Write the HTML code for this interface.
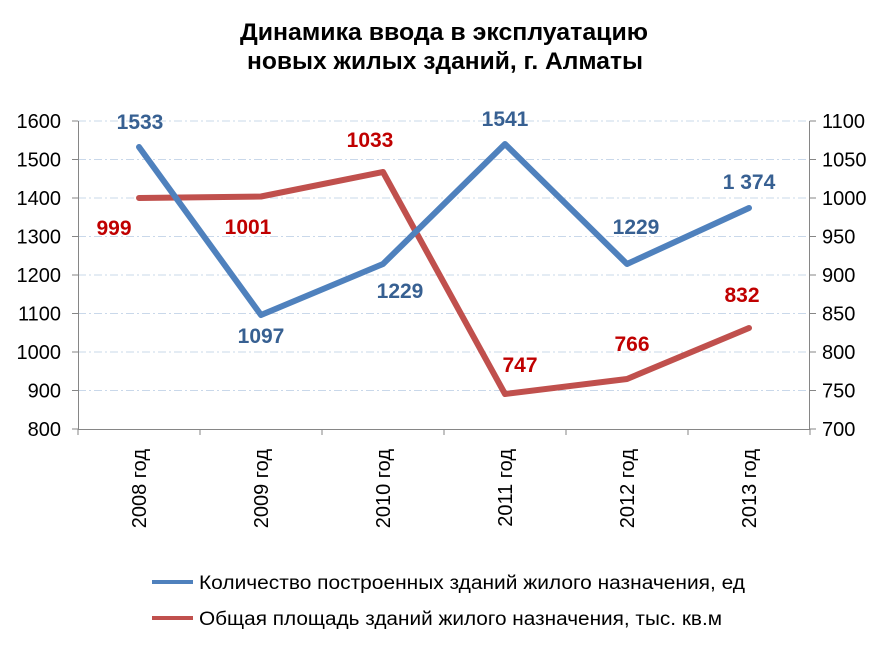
<!DOCTYPE html>
<html><head><meta charset="utf-8"><style>body{margin:0;background:#fff}</style></head><body>
<svg width="888" height="646" xmlns="http://www.w3.org/2000/svg" font-family="Liberation Sans, sans-serif">
<rect width="888" height="646" fill="#fff"/>
<text x="240" y="40" font-size="24" font-weight="bold" textLength="408" lengthAdjust="spacingAndGlyphs">Динамика ввода в эксплуатацию</text>
<text x="247" y="69" font-size="24" font-weight="bold" textLength="396" lengthAdjust="spacingAndGlyphs">новых жилых зданий, г. Алматы</text>
<g stroke="#c9d8ea" stroke-width="1" stroke-dasharray="8,3,2,3">
<line x1="78" x2="810" y1="121" y2="121"/><line x1="78" x2="810" y1="159.5" y2="159.5"/>
<line x1="78" x2="810" y1="198" y2="198"/><line x1="78" x2="810" y1="236.5" y2="236.5"/>
<line x1="78" x2="810" y1="275" y2="275"/><line x1="78" x2="810" y1="313.5" y2="313.5"/>
<line x1="78" x2="810" y1="352" y2="352"/><line x1="78" x2="810" y1="390.5" y2="390.5"/>
</g>
<g stroke="#868686" stroke-width="1">
<line x1="78.5" y1="121" x2="78.5" y2="429"/><line x1="809.5" y1="121" x2="809.5" y2="429"/>
<line x1="78" y1="429.5" x2="810" y2="429.5"/>
<line x1="72" x2="78" y1="121" y2="121"/><line x1="72" x2="78" y1="159.5" y2="159.5"/><line x1="72" x2="78" y1="198" y2="198"/><line x1="72" x2="78" y1="236.5" y2="236.5"/><line x1="72" x2="78" y1="275" y2="275"/><line x1="72" x2="78" y1="313.5" y2="313.5"/><line x1="72" x2="78" y1="352" y2="352"/><line x1="72" x2="78" y1="390.5" y2="390.5"/><line x1="72" x2="78" y1="429" y2="429"/>
<line x1="810" x2="816" y1="121" y2="121"/><line x1="810" x2="816" y1="159.5" y2="159.5"/><line x1="810" x2="816" y1="198" y2="198"/><line x1="810" x2="816" y1="236.5" y2="236.5"/><line x1="810" x2="816" y1="275" y2="275"/><line x1="810" x2="816" y1="313.5" y2="313.5"/><line x1="810" x2="816" y1="352" y2="352"/><line x1="810" x2="816" y1="390.5" y2="390.5"/><line x1="810" x2="816" y1="429" y2="429"/>
<line x1="200" x2="200" y1="429" y2="435"/><line x1="322" x2="322" y1="429" y2="435"/><line x1="444" x2="444" y1="429" y2="435"/><line x1="566" x2="566" y1="429" y2="435"/><line x1="688" x2="688" y1="429" y2="435"/><line x1="78" x2="78" y1="429" y2="435"/><line x1="810" x2="810" y1="429" y2="435"/>
</g>
<g font-size="20" text-anchor="end">
<text x="61" y="128">1600</text><text x="61" y="166.5">1500</text><text x="61" y="205">1400</text><text x="61" y="243.5">1300</text><text x="61" y="282">1200</text><text x="61" y="320.5">1100</text><text x="61" y="359">1000</text><text x="61" y="397.5">900</text><text x="61" y="436">800</text>
</g>
<g font-size="20" text-anchor="start">
<text x="822" y="128">1100</text><text x="822" y="166.5">1050</text><text x="822" y="205">1000</text><text x="822" y="243.5">950</text><text x="822" y="282">900</text><text x="822" y="320.5">850</text><text x="822" y="359">800</text><text x="822" y="397.5">750</text><text x="822" y="436">700</text>
</g>
<g font-size="20" text-anchor="end">
<text transform="translate(146,449) rotate(-90)">2008 год</text>
<text transform="translate(268,449) rotate(-90)">2009 год</text>
<text transform="translate(390,449) rotate(-90)">2010 год</text>
<text transform="translate(512,449) rotate(-90)">2011 год</text>
<text transform="translate(634,449) rotate(-90)">2012 год</text>
<text transform="translate(756,449) rotate(-90)">2013 год</text>
</g>
<polyline fill="none" stroke="#c0504d" stroke-width="6" stroke-linejoin="round" stroke-linecap="round" points="139,198 261,196.5 383,172 505,394 627,379 749,328"/>
<polyline fill="none" stroke="#4f81bd" stroke-width="6" stroke-linejoin="round" stroke-linecap="round" points="139,147 261,315 383,264 505,144 627,264 749,208"/>
<g font-size="21" font-weight="bold" fill="#376092" text-anchor="middle">
<text x="140" y="129">1533</text><text x="261" y="343">1097</text><text x="400" y="298">1229</text><text x="505" y="126">1541</text><text x="636" y="234">1229</text><text x="749" y="189">1 374</text>
</g>
<g font-size="21" font-weight="bold" fill="#c00000" text-anchor="middle">
<text x="114" y="235">999</text><text x="248" y="234">1001</text><text x="370" y="147">1033</text><text x="520" y="372">747</text><text x="632" y="351">766</text><text x="742" y="302">832</text>
</g>
<line x1="152" x2="193" y1="582" y2="582" stroke="#4f81bd" stroke-width="4"/>
<text x="199" y="589" font-size="19" textLength="546" lengthAdjust="spacingAndGlyphs">Количество построенных зданий жилого назначения, ед</text>
<line x1="152" x2="193" y1="618" y2="618" stroke="#c0504d" stroke-width="4"/>
<text x="199" y="625" font-size="19" textLength="523" lengthAdjust="spacingAndGlyphs">Общая площадь зданий жилого назначения, тыс. кв.м</text>
</svg>
</body></html>
